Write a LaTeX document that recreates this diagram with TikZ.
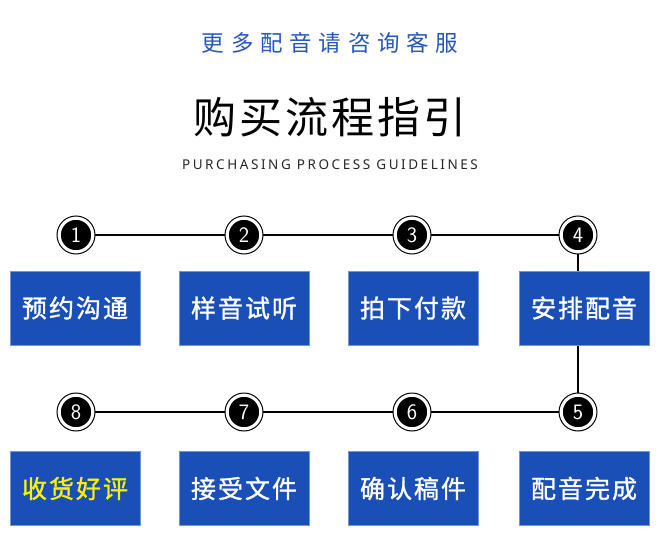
\documentclass[tikz,border=0pt]{standalone}
\usepackage{fontspec}
\setmainfont{Noto Sans CJK SC}
\newfontfamily\cjk{Noto Sans CJK SC}
\newfontfamily\cjkspaced[LetterSpace=30]{Noto Sans CJK SC}
\newfontfamily\cjkbox[LetterSpace=8,FakeBold=1.2]{Noto Sans CJK SC}
\newfontfamily\titlefont[LetterSpace=7]{Noto Sans CJK SC}
\newfontfamily\engfont[LetterSpace=19]{Noto Sans}
\definecolor{boxblue}{HTML}{1A4FB8}
\definecolor{topblue}{HTML}{2656BF}
\definecolor{yel}{HTML}{FFF200}
\tikzset{
  stepbox/.style={fill=boxblue, draw=boxblue!60!white, line width=0.6pt, minimum width=130pt, minimum height=74pt, inner sep=0pt, font=\cjkbox\fontsize{25}{25}\selectfont, text=white},
  numc/.style={circle, fill=black, draw=white, line width=2.5pt, minimum size=33pt, inner sep=0pt, font=\fontsize{22}{22}\selectfont\sffamily, text=white},
  ring/.style={circle, draw=black, line width=1pt, minimum size=38pt, inner sep=0pt, fill=white},
  link/.style={draw=black, line width=1.2pt}
}
\begin{document}
\begin{tikzpicture}[x=1pt,y=-1pt]
\useasboundingbox (0,0) rectangle (665,538);
\fill[white] (0,0) rectangle (665,538);
% titles
\node[text=topblue, font=\cjkspaced\fontsize{22.5}{22.5}\selectfont] (sub) at (330,43) {更多配音请咨询客服};
\node[text=black, font=\titlefont\fontsize{43}{43}\selectfont] (title) at (330,117) {购买流程指引};
\node[text=black!85, font=\engfont\fontsize{13.5}{13.5}\selectfont] (eng) at (330,165) {PURCHASING PROCESS GUIDELINES};
% coordinates of circles
\coordinate (p1) at (76,235);
\coordinate (p2) at (244,235);
\coordinate (p3) at (412,235);
\coordinate (p4) at (578,235);
\coordinate (p8) at (76,412);
\coordinate (p7) at (244,412);
\coordinate (p6) at (412,412);
\coordinate (p5) at (578,412);
% connectors
\draw[link] (p1) -- (p4) -- (p5) -- (p8);
% boxes
\node[stepbox] (b1) at (75,308) {预约沟通};
\node[stepbox] (b2) at (244,308) {样音试听};
\node[stepbox] (b3) at (413,308) {拍下付款};
\node[stepbox] (b4) at (584,308) {安排配音};
\node[stepbox, text=yel] (b8) at (75,488.5) {收货好评};
\node[stepbox] (b7) at (244,488.5) {接受文件};
\node[stepbox] (b6) at (413,488.5) {确认稿件};
\node[stepbox] (b5) at (584,488.5) {配音完成};
% number circles
\foreach \p/\n in {p1/1,p2/2,p3/3,p4/4,p5/5,p6/6,p7/7,p8/8}{
  \node[ring] (r\n) at (\p) {};
  \node[numc] (c\n) at (\p) {\n};
}
\end{tikzpicture}
\end{document}
